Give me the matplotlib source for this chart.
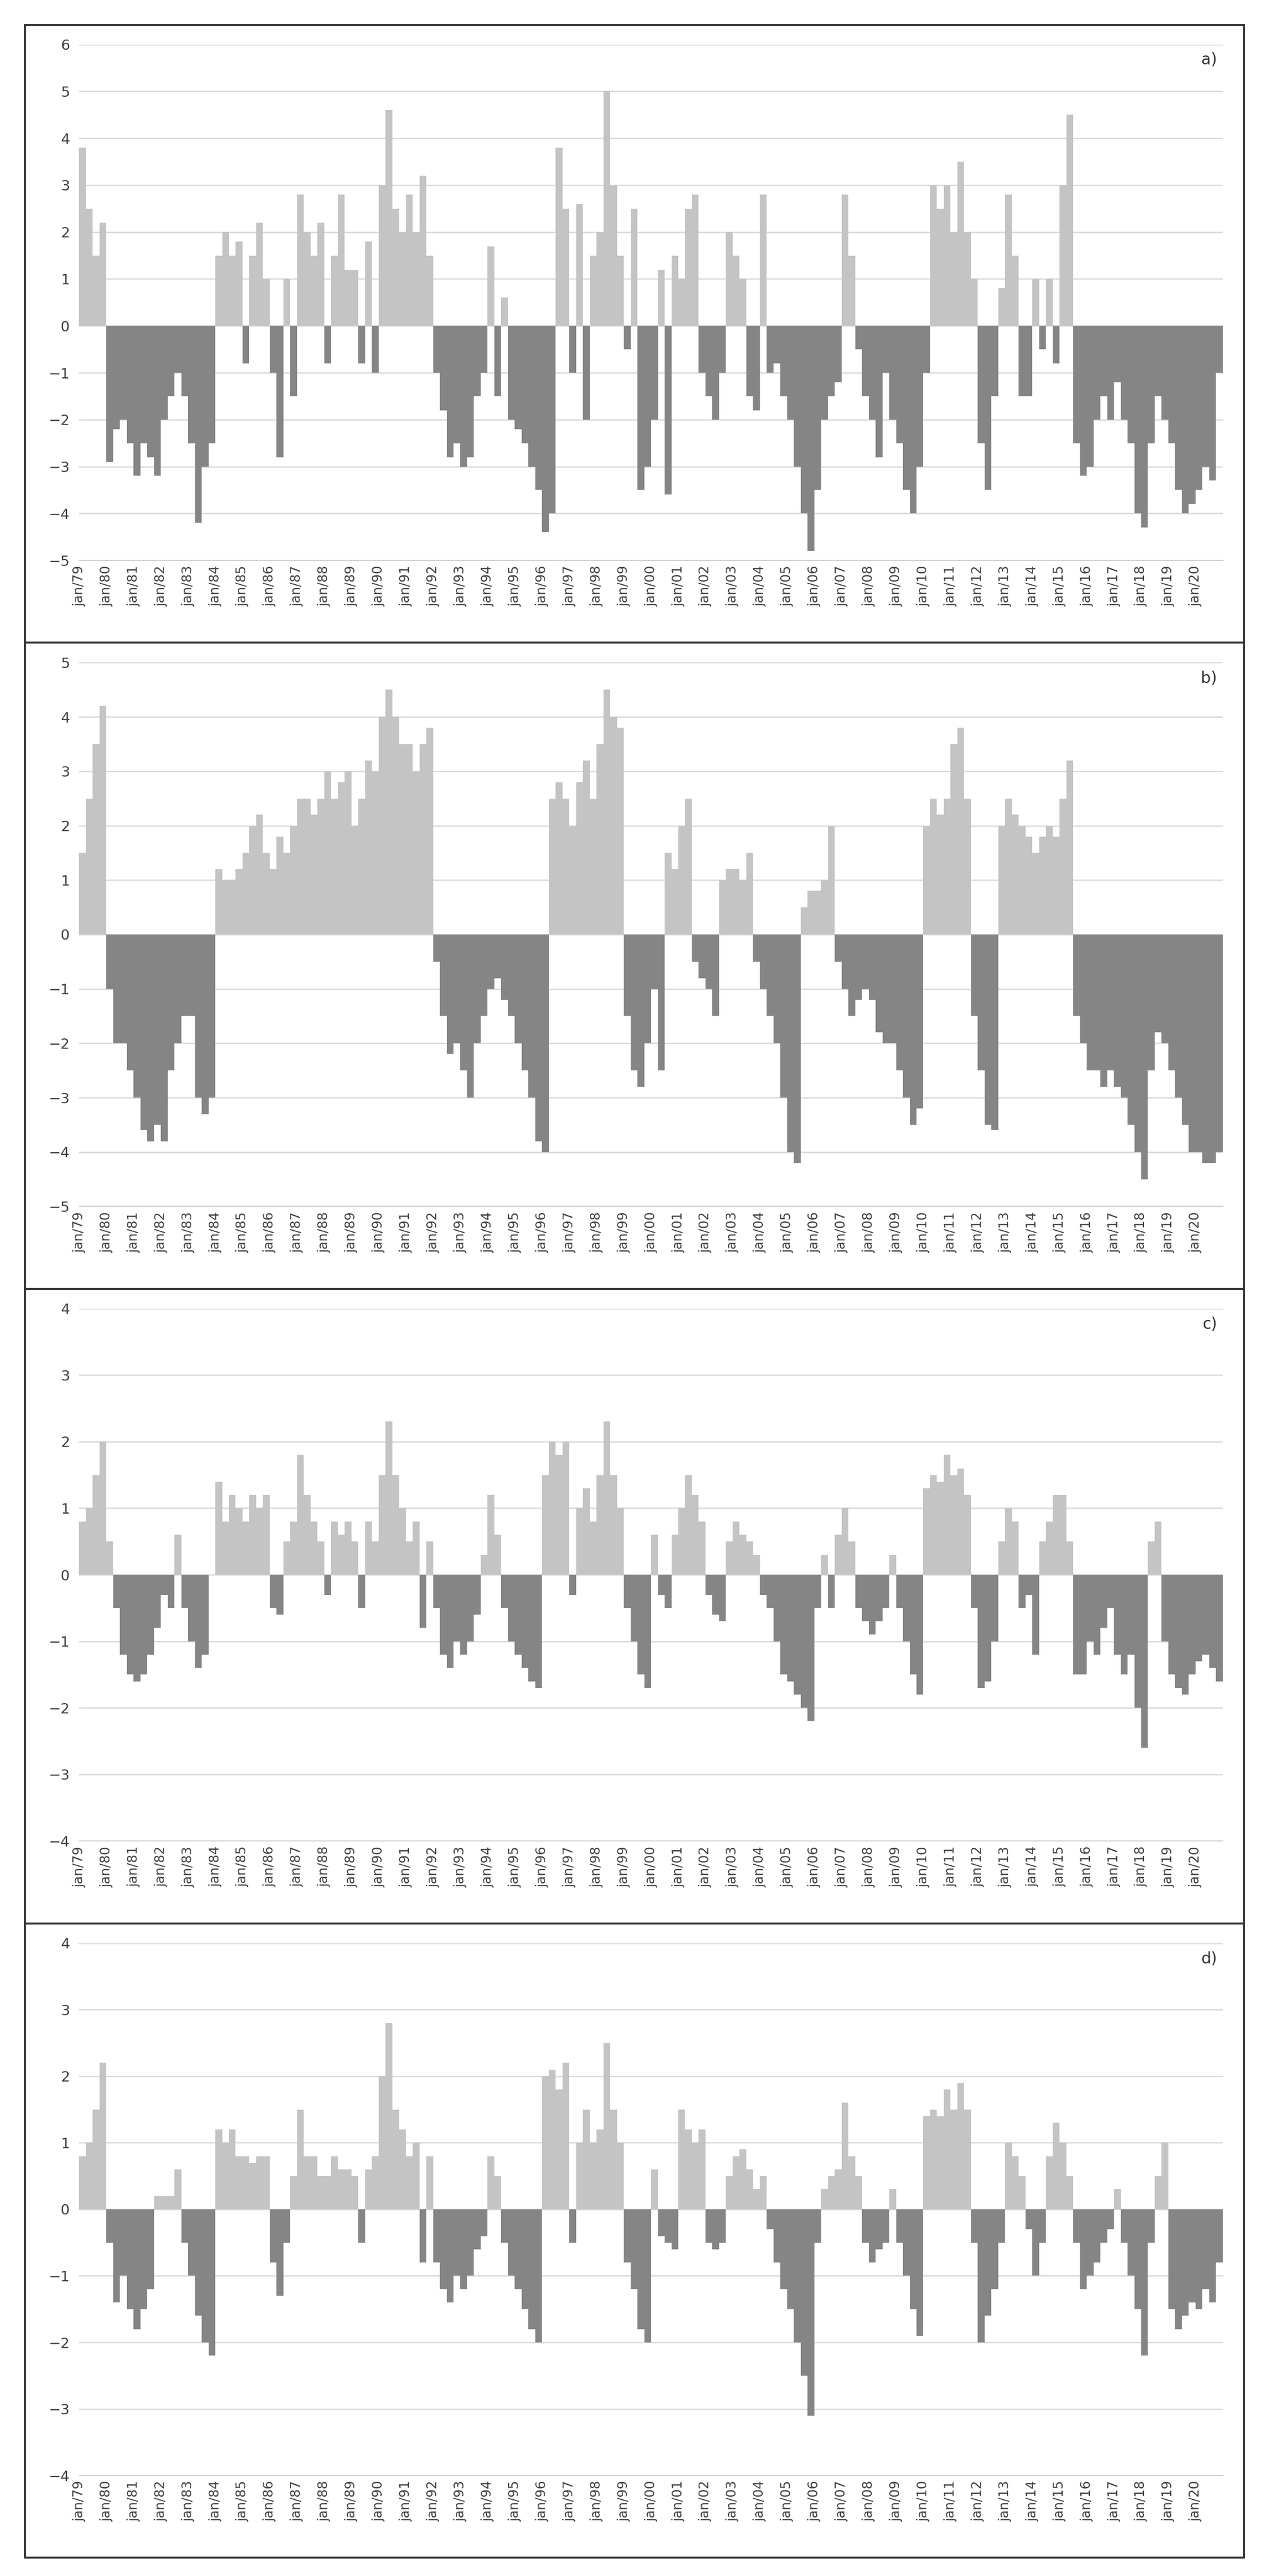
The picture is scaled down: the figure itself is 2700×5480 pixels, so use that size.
import numpy as np
import matplotlib
matplotlib.use("Agg")
import matplotlib.pyplot as plt
from matplotlib.patches import Rectangle

years = list(range(1979, 2021))
tick_labels = ["jan/%02d" % (y % 100) for y in years]

# quarterly values, 1979Q1 .. 2020Q4
series_a = [3.8,2.5,1.5,2.2, -2.9,-2.2,-2.0,-2.5, -3.2,-2.5,-2.8,-3.2, -2.0,-1.5,-1.0,-1.5, -2.5,-4.2,-3.0,-2.5,
 1.5,2.0,1.5,1.8, -0.8,1.5,2.2,1.0, -1.0,-2.8,1.0,-1.5, 2.8,2.0,1.5,2.2, -0.8,1.5,2.8,1.2,
 1.2,-0.8,1.8,-1.0, 3.0,4.6,2.5,2.0, 2.8,2.0,3.2,1.5, -1.0,-1.8,-2.8,-2.5, -3.0,-2.8,-1.5,-1.0,
 1.7,-1.5,0.6,-2.0, -2.2,-2.5,-3.0,-3.5, -4.4,-4.0,3.8,2.5, -1.0,2.6,-2.0,1.5, 2.0,5.0,3.0,1.5,
 -0.5,2.5,-3.5,-3.0, -2.0,1.2,-3.6,1.5, 1.0,2.5,2.8,-1.0, -1.5,-2.0,-1.0,2.0, 1.5,1.0,-1.5,-1.8,
 2.8,-1.0,-0.8,-1.5, -2.0,-3.0,-4.0,-4.8, -3.5,-2.0,-1.5,-1.2, 2.8,1.5,-0.5,-1.5, -2.0,-2.8,-1.0,-2.0,
 -2.5,-3.5,-4.0,-3.0, -1.0,3.0,2.5,3.0, 2.0,3.5,2.0,1.0, -2.5,-3.5,-1.5,0.8, 2.8,1.5,-1.5,-1.5,
 1.0,-0.5,1.0,-0.8, 3.0,4.5,-2.5,-3.2, -3.0,-2.0,-1.5,-2.0, -1.2,-2.0,-2.5,-4.0, -4.3,-2.5,-1.5,-2.0,
 -2.5,-3.5,-4.0,-3.8, -3.5,-3.0,-3.3,-1.0]
series_b = [1.5,2.5,3.5,4.2, -1.0,-2.0,-2.0,-2.5, -3.0,-3.6,-3.8,-3.5, -3.8,-2.5,-2.0,-1.5, -1.5,-3.0,-3.3,-3.0,
 1.2,1.0,1.0,1.2, 1.5,2.0,2.2,1.5, 1.2,1.8,1.5,2.0, 2.5,2.5,2.2,2.5, 3.0,2.5,2.8,3.0,
 2.0,2.5,3.2,3.0, 4.0,4.5,4.0,3.5, 3.5,3.0,3.5,3.8, -0.5,-1.5,-2.2,-2.0, -2.5,-3.0,-2.0,-1.5,
 -1.0,-0.8,-1.2,-1.5, -2.0,-2.5,-3.0,-3.8, -4.0,2.5,2.8,2.5, 2.0,2.8,3.2,2.5, 3.5,4.5,4.0,3.8,
 -1.5,-2.5,-2.8,-2.0, -1.0,-2.5,1.5,1.2, 2.0,2.5,-0.5,-0.8, -1.0,-1.5,1.0,1.2, 1.2,1.0,1.5,-0.5,
 -1.0,-1.5,-2.0,-3.0, -4.0,-4.2,0.5,0.8, 0.8,1.0,2.0,-0.5, -1.0,-1.5,-1.2,-1.0, -1.2,-1.8,-2.0,-2.0,
 -2.5,-3.0,-3.5,-3.2, 2.0,2.5,2.2,2.5, 3.5,3.8,2.5,-1.5, -2.5,-3.5,-3.6,2.0, 2.5,2.2,2.0,1.8,
 1.5,1.8,2.0,1.8, 2.5,3.2,-1.5,-2.0, -2.5,-2.5,-2.8,-2.5, -2.8,-3.0,-3.5,-4.0, -4.5,-2.5,-1.8,-2.0,
 -2.5,-3.0,-3.5,-4.0, -4.0,-4.2,-4.2,-4.0]
series_c = [0.8,1.0,1.5,2.0, 0.5,-0.5,-1.2,-1.5, -1.6,-1.5,-1.2,-0.8, -0.3,-0.5,0.6,-0.5, -1.0,-1.4,-1.2,0.0,
 1.4,0.8,1.2,1.0, 0.8,1.2,1.0,1.2, -0.5,-0.6,0.5,0.8, 1.8,1.2,0.8,0.5, -0.3,0.8,0.6,0.8,
 0.5,-0.5,0.8,0.5, 1.5,2.3,1.5,1.0, 0.5,0.8,-0.8,0.5, -0.5,-1.2,-1.4,-1.0, -1.2,-1.0,-0.6,0.3,
 1.2,0.6,-0.5,-1.0, -1.2,-1.4,-1.6,-1.7, 1.5,2.0,1.8,2.0, -0.3,1.0,1.3,0.8, 1.5,2.3,1.5,1.0,
 -0.5,-1.0,-1.5,-1.7, 0.6,-0.3,-0.5,0.6, 1.0,1.5,1.2,0.8, -0.3,-0.6,-0.7,0.5, 0.8,0.6,0.5,0.3,
 -0.3,-0.5,-1.0,-1.5, -1.6,-1.8,-2.0,-2.2, -0.5,0.3,-0.5,0.6, 1.0,0.5,-0.5,-0.7, -0.9,-0.7,-0.5,0.3,
 -0.5,-1.0,-1.5,-1.8, 1.3,1.5,1.4,1.8, 1.5,1.6,1.2,-0.5, -1.7,-1.6,-1.0,0.5, 1.0,0.8,-0.5,-0.3,
 -1.2,0.5,0.8,1.2, 1.2,0.5,-1.5,-1.5, -1.0,-1.2,-0.8,-0.5, -1.2,-1.5,-1.2,-2.0, -2.6,0.5,0.8,-1.0,
 -1.5,-1.7,-1.8,-1.5, -1.3,-1.2,-1.4,-1.6]
series_d = [0.8,1.0,1.5,2.2, -0.5,-1.4,-1.0,-1.5, -1.8,-1.5,-1.2,0.2, 0.2,0.2,0.6,-0.5, -1.0,-1.6,-2.0,-2.2,
 1.2,1.0,1.2,0.8, 0.8,0.7,0.8,0.8, -0.8,-1.3,-0.5,0.5, 1.5,0.8,0.8,0.5, 0.5,0.8,0.6,0.6,
 0.5,-0.5,0.6,0.8, 2.0,2.8,1.5,1.2, 0.8,1.0,-0.8,0.8, -0.8,-1.2,-1.4,-1.0, -1.2,-1.0,-0.6,-0.4,
 0.8,0.5,-0.5,-1.0, -1.2,-1.5,-1.8,-2.0, 2.0,2.1,1.8,2.2, -0.5,1.0,1.5,1.0, 1.2,2.5,1.5,1.0,
 -0.8,-1.2,-1.8,-2.0, 0.6,-0.4,-0.5,-0.6, 1.5,1.2,1.0,1.2, -0.5,-0.6,-0.5,0.5, 0.8,0.9,0.6,0.3,
 0.5,-0.3,-0.8,-1.2, -1.5,-2.0,-2.5,-3.1, -0.5,0.3,0.5,0.6, 1.6,0.8,0.5,-0.5, -0.8,-0.6,-0.5,0.3,
 -0.5,-1.0,-1.5,-1.9, 1.4,1.5,1.4,1.8, 1.5,1.9,1.5,-0.5, -2.0,-1.6,-1.2,-0.5, 1.0,0.8,0.5,-0.3,
 -1.0,-0.5,0.8,1.3, 1.0,0.5,-0.5,-1.2, -1.0,-0.8,-0.5,-0.3, 0.3,-0.5,-1.0,-1.5, -2.2,-0.5,0.5,1.0,
 -1.5,-1.8,-1.6,-1.4, -1.5,-1.2,-1.4,-0.8]

panels = [("a)", series_a, (-5, 6)), ("b)", series_b, (-5, 5)),
          ("c)", series_c, (-4, 4)), ("d)", series_d, (-4, 4))]

POS = "#c4c4c4"
NEG = "#858585"

fig = plt.figure(figsize=(27, 54.8), dpi=100)
H = 1563.0
boxes = [(15, 390), (390, 782), (782, 1167), (1167, 1552)]
x0b, x1b = 15 / 770, 755 / 770
for (label, vals, (lo, hi)), (t, b) in zip(panels, boxes):
    fig.patches.append(Rectangle((x0b, 1 - b / H), x1b - x0b, (b - t) / H,
                                 transform=fig.transFigure, fill=False,
                                 edgecolor="#333333", linewidth=3))
    ax_bottom = 1 - (b - 50) / H
    ax_top = 1 - (t + 12) / H
    ax = fig.add_axes([48 / 770, ax_bottom, (742 - 48) / 770, ax_top - ax_bottom])
    v = np.array(vals)
    x = 1979 + np.arange(len(v)) / 4
    ax.bar(x, v, width=0.25, align="edge", color=np.where(v >= 0, POS, NEG), linewidth=0)
    ax.set_ylim(lo, hi)
    ax.set_xlim(1979, 2021)
    ax.set_yticks(range(lo, hi + 1))
    ax.yaxis.grid(True, color="#d9d9d9", linewidth=2)
    ax.set_axisbelow(True)
    ax.set_xticks(years)
    ax.set_xticklabels(tick_labels, rotation=90, fontsize=20, color="#404040")
    ax.tick_params(axis="y", labelsize=22, colors="#404040", length=0, pad=14)
    ax.tick_params(axis="x", length=0, pad=8)
    for s in ["top", "right", "left"]:
        ax.spines[s].set_visible(False)
    ax.spines["bottom"].set_color("#bfbfbf")
    ax.text(0.995, 0.985, label, transform=ax.transAxes, ha="right", va="top",
            fontsize=24, color="#333333")

fig.savefig("out.png", dpi=100)
